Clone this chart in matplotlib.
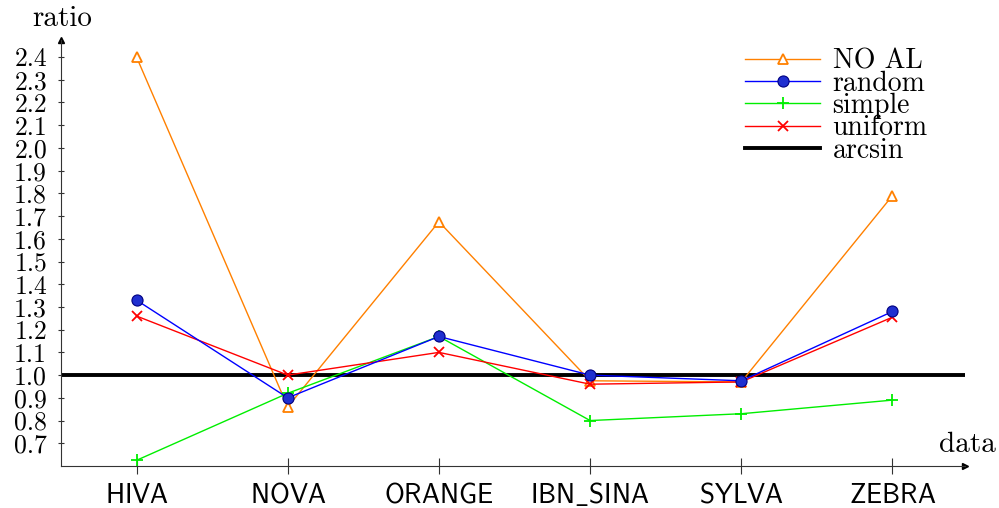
import numpy as np
import matplotlib
matplotlib.use("Agg")
import matplotlib.pyplot as plt

# datasets on the x axis
datasets = ["HIVA", "NOVA", "ORANGE", "IBN_SINA", "SYLVA", "ZEBRA"]

# ratio per dataset for each strategy
no_al = [2.40, 0.86, 1.675, 0.975, 0.97, 1.79]
random_ = [1.33, 0.90, 1.17, 1.00, 0.975, 1.28]
simple = [0.625, 0.92, 1.17, 0.80, 0.83, 0.89]
uniform = [1.26, 1.00, 1.10, 0.96, 0.97, 1.255]
arcsin = 1.0

yticks = [0.7, 0.8, 0.9, 1.0, 1.1, 1.2, 1.3, 1.4, 1.5, 1.6, 1.7, 1.8, 1.9,
          2.0, 2.1, 2.2, 2.3, 2.4]

plt.rcParams['font.family'] = ['cmr10', 'DejaVu Serif']
plt.rcParams['mathtext.fontset'] = 'cm'
plt.rcParams['axes.unicode_minus'] = False

fig = plt.figure(figsize=(9.99, 5.08), dpi=100)
ax = fig.add_axes([0.061, 0.0827, 0.905, 0.839])

x = np.arange(len(datasets))

ax.plot(x, no_al, color='#ff8000', lw=1, marker='^', ms=7, mfc='white',
        mec='#ff8000', mew=1.3, label='NO AL', zorder=3)
ax.plot(x, random_, color='#0000ff', lw=1, marker='o', ms=8, mfc='#1f2fd0',
        mec='#000080', mew=0.8, label='random', zorder=4)
ax.plot(x, simple, color='#00ee00', lw=1, marker='+', ms=9, mew=1.3,
        label='simple', zorder=3)
ax.plot(x, uniform, color='#ff0000', lw=1, marker='x', ms=7, mew=1.3,
        label='uniform', zorder=3)
ax.axhline(arcsin, color='black', lw=2.8, label='arcsin', zorder=2)

ax.set_xlim(-0.5, 5.48)
ax.set_ylim(0.6, 2.476)

# cmss10 has no underscore glyph, so the underscore goes through mathtext
xlabels = [r'$\mathsf{' + d.replace('_', r'\_') + '}$' for d in datasets]
ax.set_xticks(x)
ax.set_xticklabels(xlabels, fontsize=19.5, va='baseline')
ax.set_yticks(yticks)
ax.set_yticklabels(["%.1f" % v for v in yticks], fontsize=18.5)
ax.tick_params(axis='both', direction='inout', width=0.8, color='#333333')
ax.tick_params(axis='y', length=4, pad=8)
ax.tick_params(axis='x', length=11, pad=21)

for s in ['top', 'right']:
    ax.spines[s].set_visible(False)
for s in ['left', 'bottom']:
    ax.spines[s].set_linewidth(0.8)
    ax.spines[s].set_color('#333333')

# arrow heads on the axes
ax.plot(1, 0, '>', color='black', ms=5, transform=ax.transAxes, clip_on=False)
ax.plot(0, 1, '^', color='black', ms=5, transform=ax.transAxes, clip_on=False)

fig.text(0.062, 0.962, 'ratio', ha='center', va='center', fontsize=21)
fig.text(0.968, 0.124, 'data', ha='center', va='center', fontsize=21)

ax.legend(loc='upper right', bbox_to_anchor=(0.974, 1.012), frameon=False,
          fontsize=20, labelspacing=-0.15, handlelength=2.7, handletextpad=0.45,
          borderaxespad=0.1)

fig.savefig('out.png', dpi=100)
